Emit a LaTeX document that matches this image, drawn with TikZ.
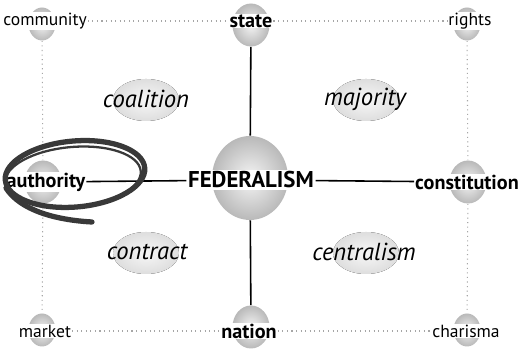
\documentclass[tikz,border=0pt]{standalone}
\usepackage{fontspec}
\setmainfont{PT Sans}
\usetikzlibrary{shapes.geometric}
\tikzset{
  globe/.style={ellipse, draw=none, minimum width=0.54cm, minimum height=0.66cm, inner sep=0pt, shading=radial, inner color=gray!8, outer color=gray!55},
  boldglobe/.style={globe, minimum width=0.74cm, minimum height=0.86cm},
  bigglobe/.style={globe, minimum width=1.52cm, minimum height=1.68cm},
  word/.style={fill=white, inner sep=0.4pt, font=\fontsize{10}{11}\selectfont},
  keyword/.style={word, font=\fontsize{11.5}{12}\selectfont\bfseries},
  field/.style={font=\fontsize{14}{16}\selectfont\itshape, inner sep=0pt},
  blob/.style={shading=radial, inner color=gray!6, outer color=gray!26},
  dotline/.style={gray!70, dotted, line width=0.6pt},
  brush/.style={gray!45!black, line width=3pt, line cap=round}
}
\begin{document}
\begin{tikzpicture}[x=0.02cm, y=-0.02cm, line join=round]
\useasboundingbox (0,0) rectangle (518,350);
% spheres
\node[globe] (communityG) at (42,24) {};
\node[boldglobe] (stateG) at (251,25) {};
\node[globe] (rightsG) at (467,24) {};
\node[boldglobe] (authorityG) at (43,182) {};
\node[bigglobe] (fedG) at (250,178) {};
\node[boldglobe] (constitutionG) at (468,182) {};
\node[globe] (marketG) at (42,330) {};
\node[boldglobe] (nationG) at (251,327) {};
\node[globe] (charismaG) at (467,330) {};
% labels
\node[word] (community) at (45,21) {community};
\node[keyword] (state) at (251,21) {state};
\node[word] (rights) at (470,21) {rights};
\node[keyword] (authority) at (46,182) {authority};
\node[word, inner sep=0.8pt, font=\fontsize{13}{14}\selectfont\bfseries] (federalism) at (251,180) {FEDERALISM};
\node[keyword] (constitution) at (467,182) {constitution};
\node[word] (market) at (45,331) {market};
\node[keyword] (nation) at (249,331) {nation};
\node[word] (charisma) at (466,331) {charisma};
% middle fields
\fill[blob] (146,100) ellipse [x radius=33, y radius=21];
\fill[blob] (366,100) ellipse [x radius=33, y radius=21];
\fill[blob] (146,253) ellipse [x radius=33, y radius=21];
\fill[blob] (366,253) ellipse [x radius=33, y radius=21];
\node[field] (coalition) at (146,99) {coalition};
\node[field] (majority) at (365,99) {majority};
\node[field] (contract) at (147,252) {contract};
\node[field] (centralism) at (364,252) {centralism};
% connectors
\draw[dotline] (community) -- (state);
\draw[dotline] (state) -- (rights);
\draw[dotline] (market) -- (nation);
\draw[dotline] (nation) -- (charisma);
\draw[dotline] (communityG) -- (authorityG);
\draw[dotline] (authorityG) -- (marketG);
\draw[dotline] (rightsG) -- (constitutionG);
\draw[dotline] (constitutionG) -- (charismaG);
\draw[line width=0.9pt] (stateG) -- (fedG);
\draw[line width=0.9pt] (fedG) -- (nationG);
\draw[line width=0.9pt] (authority) -- (federalism);
\draw[line width=0.9pt] (federalism) -- (constitution);
% brush stroke round authority
\draw[brush] (75,174) ellipse [x radius=70, y radius=33, rotate=5];
\draw[brush, line width=1.3pt] (73,177) ellipse [x radius=68, y radius=30, rotate=5];
\draw[brush] (6,188) .. controls (20,210) and (55,220) .. (92,222);
\end{tikzpicture}
\end{document}
